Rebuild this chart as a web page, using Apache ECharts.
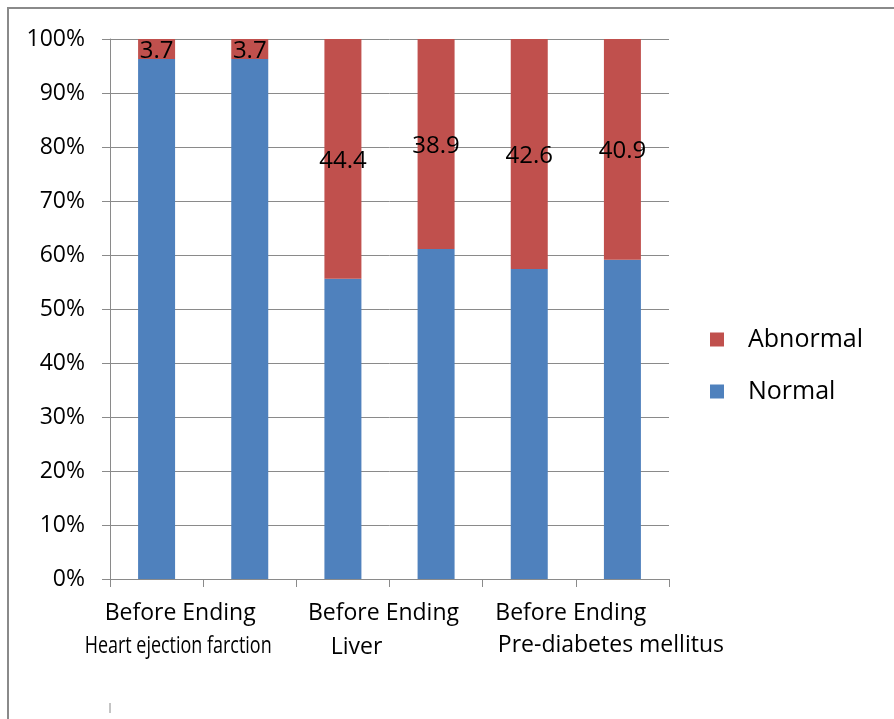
<!DOCTYPE html>
<html>
<head>
<meta charset="utf-8">
<script src="https://cdn.jsdelivr.net/npm/echarts@6/dist/echarts.min.js"></script>
<style>
  html, body { margin: 0; padding: 0; background: #ffffff; }
  #chart { width: 894px; height: 719px; }
</style>
</head>
<body>
<div id="chart"></div>
<script>
// Outcome groups and the two measurement phases shown for each
const groups = ['Heart ejection farction', 'Liver', 'Pre-diabetes mellitus'];
const phases = ['Before', 'Ending'];
// One bar per group × phase, in drawing order
const categories = [];
groups.forEach(g => phases.forEach(p => categories.push(g + ' · ' + p)));

// Share of patients (%) per bar
const normal   = [96.3, 96.3, 55.6, 61.1, 57.4, 59.1];
const abnormal = [3.7, 3.7, 44.4, 38.9, 42.6, 40.9];

const seriesNames = ['Abnormal', 'Normal'];
const yMin = 0, yMax = 100, yStep = 10;

const FONT = '"Open Sans", "Noto Sans", sans-serif';
const GRID_GRAY = '#8a8a8a';
const BLUE = '#4f81bd';
const RED = '#c0504d';

const chart = echarts.init(document.getElementById('chart'), null, { renderer: 'canvas' });

chart.setOption({
  backgroundColor: '#ffffff',
  animation: false,
  textStyle: { fontFamily: FONT },
  grid: { left: 110, right: 225, top: 39, bottom: 140 },
  legend: {
    data: seriesNames,
    orient: 'vertical',
    left: 705,
    top: 322,
    icon: 'rect',
    itemWidth: 14,
    itemHeight: 14,
    itemGap: 27,
    textStyle: { fontSize: 25, color: '#000', fontFamily: FONT, padding: [0, 0, 0, 19] }
  },
  xAxis: {
    type: 'category',
    data: categories,
    boundaryGap: true,
    axisLine: { lineStyle: { color: GRID_GRAY, width: 1 } },
    axisTick: { show: true, length: 8, interval: 0, lineStyle: { color: GRID_GRAY } },
    axisLabel: { show: false }
  },
  yAxis: {
    type: 'value',
    min: yMin,
    max: yMax,
    interval: yStep,
    axisLine: { show: true, lineStyle: { color: GRID_GRAY, width: 1 } },
    axisTick: { show: true, length: 8, lineStyle: { color: GRID_GRAY } },
    splitLine: { show: true, lineStyle: { color: GRID_GRAY, width: 1 } },
    axisLabel: { formatter: '{value}%', fontSize: 23, color: '#000', margin: 25, fontFamily: FONT }
  },
  series: [
    {
      name: 'Normal',
      type: 'bar',
      stack: 'share',
      barWidth: 37,
      itemStyle: { color: BLUE },
      data: normal
    },
    {
      name: 'Abnormal',
      type: 'bar',
      stack: 'share',
      barWidth: 37,
      itemStyle: { color: RED },
      label: {
        show: true,
        position: 'inside',
        offset: [0, 2],
        color: '#000',
        fontSize: 24,
        fontFamily: FONT,
        formatter: p => p.value.toFixed(1)
      },
      data: abnormal
    }
  ]
});

// Two-line category captions under each group, placed from the axis scale
const catX = i => chart.convertToPixel({ xAxisIndex: 0 }, i);
const groupCenter = g => (catX(2 * g) + catX(2 * g + 1)) / 2;
const axisBottom = chart.convertToPixel({ yAxisIndex: 0 }, yMin);
const plotLeft = catX(0) - (catX(1) - catX(0)) / 2;

const headingDx = [-23, -6, -5];
const captionLayout = [
  { dx: -25, align: 'center', scaleX: 0.78, dy: 67 },
  { dx: -33, align: 'center', scaleX: 1, dy: 68 },
  { dx: -78, align: 'left', scaleX: 1, dy: 66 }
];

const graphics = [];
groups.forEach((g, i) => {
  graphics.push({
    type: 'text',
    x: groupCenter(i) + headingDx[i],
    y: axisBottom + 34,
    style: {
      text: phases.join(' '),
      font: '23px ' + FONT,
      fill: '#000',
      textAlign: 'center',
      textVerticalAlign: 'middle'
    }
  });
  const c = captionLayout[i];
  graphics.push({
    type: 'text',
    x: groupCenter(i) + c.dx,
    y: axisBottom + c.dy,
    scaleX: c.scaleX,
    style: {
      text: g,
      font: '23px ' + FONT,
      fill: '#000',
      textAlign: c.align,
      textVerticalAlign: 'middle'
    }
  });
});

// Outer chart frame (open at the right and bottom) and a stray axis stub below
graphics.push({
  type: 'rect',
  shape: { x: 8, y: 8, width: 920, height: 760 },
  style: { fill: 'none', stroke: GRID_GRAY, lineWidth: 2 },
  silent: true
});
graphics.push({
  type: 'line',
  shape: { x1: plotLeft, y1: 703, x2: plotLeft, y2: 713 },
  style: { stroke: GRID_GRAY, lineWidth: 1 },
  silent: true
});

chart.setOption({ graphic: graphics });
</script>
</body>
</html>
